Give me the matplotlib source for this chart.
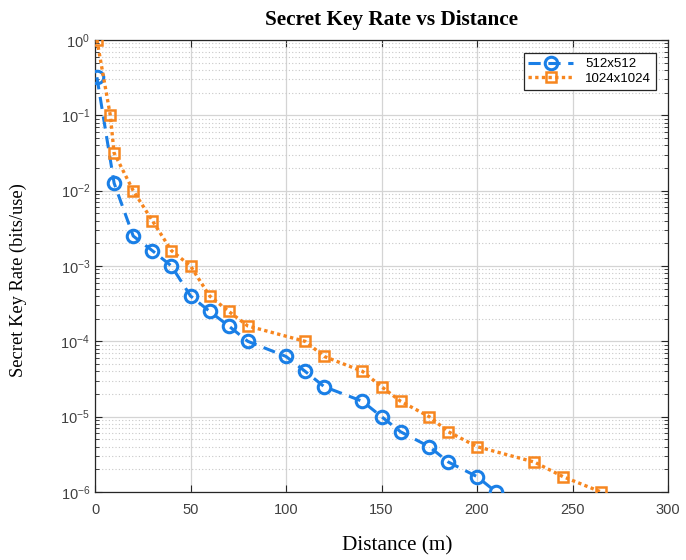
import matplotlib
matplotlib.use("Agg")
import matplotlib.pyplot as plt
from matplotlib.ticker import LogLocator, NullFormatter

# Data
dist_512 = [1, 10, 20, 30, 40, 50, 60, 70, 80, 100, 110, 120, 140, 150, 160, 175, 185, 200, 210]
skr_512 = [0.32, 0.0126, 0.0025, 0.0016, 1e-3, 4e-4, 2.5e-4, 1.6e-4, 1e-4, 6.3e-5, 4e-5,
           2.5e-5, 1.6e-5, 1e-5, 6.3e-6, 4e-6, 2.5e-6, 1.6e-6, 1e-6]
dist_1024 = [1, 8, 10, 20, 30, 40, 50, 60, 70, 80, 110, 120, 140, 150, 160, 175, 185, 200, 230, 245, 265]
skr_1024 = [1.0, 0.1, 0.0316, 0.01, 0.004, 0.0016, 1e-3, 4e-4, 2.5e-4, 1.6e-4, 1e-4, 6.3e-5,
            4e-5, 2.5e-5, 1.6e-5, 1e-5, 6.3e-6, 4e-6, 2.5e-6, 1.6e-6, 1e-6]
labels = ["512x512", "1024x1024"]
xticks = [0, 50, 100, 150, 200, 250, 300]

blue = "#1a7fe6"
orange = "#f7861f"

fig = plt.figure(figsize=(6.86, 5.60), dpi=100)
ax = fig.add_axes([0.1385, 0.1214, 0.8353, 0.8072])

ax.semilogy(dist_512, skr_512, linestyle=(0, (4, 2.5)), color=blue, linewidth=2.2,
            marker="o", markersize=9, markerfacecolor="none", markeredgewidth=2.2,
            label=labels[0], zorder=3)
ax.semilogy(dist_1024, skr_1024, linestyle=(0, (1, 1)), color=orange, linewidth=2.4,
            marker="s", markersize=7.5, markerfacecolor="none", markeredgewidth=1.8,
            label=labels[1], zorder=3)

ax.set_xlim(0, 300)
ax.set_ylim(1e-6, 1)
ax.set_xticks(xticks)
ax.yaxis.set_major_locator(LogLocator(base=10, numticks=10))
ax.yaxis.set_minor_locator(LogLocator(base=10, subs=range(2, 10), numticks=20))
ax.yaxis.set_minor_formatter(NullFormatter())

ax.grid(True, which="major", color="#d4d4d4", linestyle="-", linewidth=0.9)
ax.grid(True, which="minor", axis="y", color="#c8c8c8", linestyle=(0, (1, 2)), linewidth=0.8)

for s in ax.spines.values():
    s.set_color("#262626")
    s.set_linewidth(0.9)
ax.tick_params(which="both", direction="in", top=True, right=True, colors="#262626",
               labelcolor="#404040", labelsize=10.5)
ax.tick_params(which="major", length=5)
ax.tick_params(which="minor", length=3)
ax.tick_params(axis="x", which="major", pad=8)
for lab in ax.get_xticklabels() + ax.get_yticklabels():
    lab.set_fontfamily("Liberation Sans")

ax.set_title("Secret Key Rate vs Distance", fontfamily="Liberation Serif",
             fontweight="bold", fontsize=15.3, x=0.518, y=1.0, pad=11)
ax.set_xlabel("Distance (m)", fontfamily="Liberation Serif", fontsize=15.3)
ax.set_ylabel("Secret Key Rate (bits/use)", fontfamily="Liberation Serif", fontsize=13.3)
ax.xaxis.set_label_coords(0.527, -0.098)
ax.yaxis.set_label_coords(-0.118, 0.469)

leg = ax.legend(loc="upper right", bbox_to_anchor=(0.99, 0.985),
                prop={"family": "Liberation Sans", "size": 9.5},
                fancybox=False, framealpha=1, edgecolor="#262626",
                handlelength=3.4, borderpad=0.35, labelspacing=0.2, handletextpad=0.9)
leg.get_frame().set_linewidth(0.9)

fig.savefig("out.png", dpi=100)
